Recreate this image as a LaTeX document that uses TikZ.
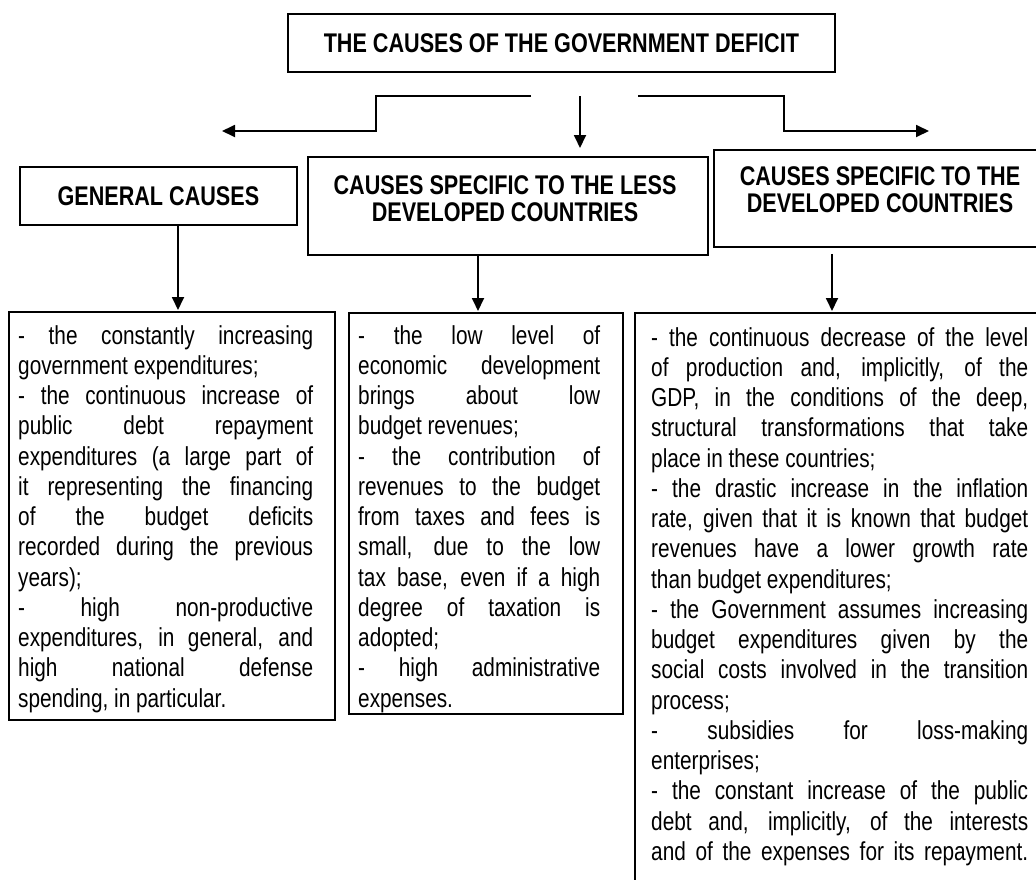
\documentclass[tikz,border=0pt]{standalone}
\usepackage{fontspec}
\setmainfont[FakeStretch=0.80]{Liberation Sans}
\usetikzlibrary{arrows.meta}
% one printed line: stretched to the full width, or left as it is
\newcommand\jline[1]{\hbox to\hsize{#1}}
\newcommand\eline[1]{\hbox to\hsize{#1\hfil}}
\begin{document}
\begin{tikzpicture}[x=1pt,y=-1pt,
  frame/.style={draw, line width=1.8pt, inner sep=0pt, anchor=north west},
  head/.style={font=\fontsize{27}{27}\selectfont\bfseries, align=center, inner sep=0pt},
  body/.style={font=\fontsize{26}{30.25}\selectfont, anchor=base west, inner sep=0pt},
  link/.style={line width=1.8pt},
  arr/.style={link, -{Triangle[length=13pt,width=12pt]}}]
\useasboundingbox (0,0) rectangle (1036,879);
\clip (0,0) rectangle (1036,879);

% headings
\node[frame, head, minimum width=547pt, minimum height=58pt] (title) at (287,13)
  {THE CAUSES OF THE GOVERNMENT DEFICIT};
\node[frame, head, minimum width=277pt, minimum height=58pt] (gen) at (19,166)
  {GENERAL CAUSES};
\node[frame, minimum width=400pt, minimum height=98pt] (less) at (307,156) {};
\node[head] (lesstext) at (505,199) {CAUSES SPECIFIC TO THE LESS\\DEVELOPED COUNTRIES};
\node[frame, minimum width=337pt, minimum height=97pt] (dev) at (713,149) {};
\node[head] (devtext) at (880,190) {CAUSES SPECIFIC TO THE\\DEVELOPED COUNTRIES};

% boxes with the lists of causes
\node[frame, minimum width=326pt, minimum height=408pt] (genbox) at (8,311) {};
\node[frame, minimum width=274pt, minimum height=401pt] (lessbox) at (348,312) {};
\node[frame, minimum width=420pt, minimum height=600pt] (devbox) at (634,312) {};

\node[body] (gentext) at (18,344) {\parbox[t]{295pt}{%
\jline{- the constantly increasing}
\eline{government expenditures;}
\jline{- the continuous increase of}
\jline{public debt repayment}
\jline{expenditures (a large part of}
\jline{it representing the financing}
\jline{of the budget deficits}
\jline{recorded during the previous}
\eline{years);}
\jline{- high non-productive}
\jline{expenditures, in general, and}
\jline{high national defense}
\eline{spending, in particular.}}};

\node[body] (lesstextbody) at (358,344) {\parbox[t]{242pt}{%
\jline{- the low level of}
\jline{economic development}
\jline{brings about low}
\eline{budget revenues;}
\jline{- the contribution of}
\jline{revenues to the budget}
\jline{from taxes and fees is}
\jline{small, due to the low}
\jline{tax base, even if a high}
\jline{degree of taxation is}
\eline{adopted;}
\jline{- high administrative}
\eline{expenses.}}};

\node[body] (devtextbody) at (651,346) {\parbox[t]{377pt}{%
\jline{- the continuous decrease of the level}
\jline{of production and, implicitly, of the}
\jline{GDP, in the conditions of the deep,}
\jline{structural transformations that take}
\eline{place in these countries;}
\jline{- the drastic increase in the inflation}
\jline{rate, given that it is known that budget}
\jline{revenues have a lower growth rate}
\eline{than budget expenditures;}
\jline{- the Government assumes increasing}
\jline{budget expenditures given by the}
\jline{social costs involved in the transition}
\eline{process;}
\jline{- subsidies for loss-making}
\eline{enterprises;}
\jline{- the constant increase of the public}
\jline{debt and, implicitly, of the interests}
\jline{and of the expenses for its repayment.}}};

% branching arrows under the title
\coordinate (lstart) at (531,96);
\coordinate (lknee) at (376,96);
\coordinate (lend) at (222,131);
\coordinate (cstart) at (580,96);
\coordinate (cend) at (580,148);
\coordinate (rstart) at (638,96);
\coordinate (rknee) at (784,96);
\coordinate (rend) at (929,131);
\draw[arr] (lstart) -- (lknee) |- (lend);
\draw[arr] (cstart) -- (cend);
\draw[arr] (rstart) -- (rknee) |- (rend);

% arrows from each heading to its list
\coordinate (ga) at (178,0);
\coordinate (la) at (478,0);
\coordinate (da) at (832,0);
\draw[arr] (gen.south -| ga) -- ([yshift=1pt]genbox.north -| ga);
\draw[arr] (less.south -| la) -- ([yshift=1pt]lessbox.north -| la);
\draw[arr, shorten <=6pt] (dev.south -| da) -- ([yshift=1pt]devbox.north -| da);
\end{tikzpicture}
\end{document}
